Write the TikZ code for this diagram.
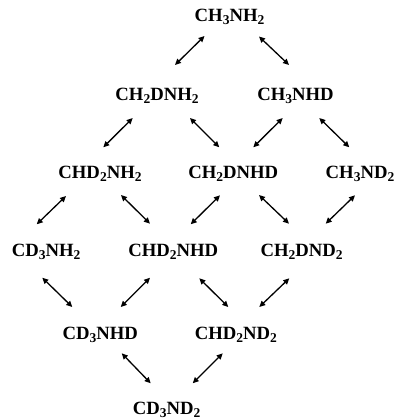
\documentclass[tikz,border=0pt]{standalone}
\usepackage{fontspec}
\setmainfont{Liberation Serif}
\usetikzlibrary{arrows.meta}
\newcommand\sbs[1]{\raisebox{-3pt}{\fontsize{13.5}{13.5}\selectfont #1}}
\begin{document}
\begin{tikzpicture}[x=1pt,y=-1pt,
  mol/.style={inner sep=0pt,anchor=base,font=\fontsize{18.7}{20}\selectfont\bfseries},
  dbl/.style={line width=1.3pt,{Triangle[length=6pt,width=5.5pt]}-{Triangle[length=6pt,width=5.5pt]}}]
\useasboundingbox (0,0) rectangle (393,419);
\node[mol] (n0)  at (229.5,21.7) {CH\sbs{3}NH\sbs{2}};
\node[mol] (n1a) at (157,100.7)  {CH\sbs{2}DNH\sbs{2}};
\node[mol] (n1b) at (295.5,100.7){CH\sbs{3}NHD};
\node[mol] (n2a) at (100,179)    {CHD\sbs{2}NH\sbs{2}};
\node[mol] (n2b) at (233.3,179)  {CH\sbs{2}DNHD};
\node[mol] (n2c) at (360,179)    {CH\sbs{3}ND\sbs{2}};
\node[mol] (n3a) at (46.2,256.7) {CD\sbs{3}NH\sbs{2}};
\node[mol] (n3b) at (173.3,256.7){CHD\sbs{2}NHD};
\node[mol] (n3c) at (301.7,256.7){CH\sbs{2}DND\sbs{2}};
\node[mol] (n4a) at (100.3,339)  {CD\sbs{3}NHD};
\node[mol] (n4b) at (235.8,339)  {CHD\sbs{2}ND\sbs{2}};
\node[mol] (n5)  at (166.7,414)  {CD\sbs{3}ND\sbs{2}};
\draw[dbl] ([shift={(-25,14.3)}]n0.base) -- ([shift={(18,-35.7)}]n1a.base);
\draw[dbl] ([shift={(29.5,14.8)}]n0.base) -- ([shift={(-6.5,-35.7)}]n1b.base);
\draw[dbl] ([shift={(-24.3,17.3)}]n1a.base) -- ([shift={(3.3,-31.7)}]n2a.base);
\draw[dbl] ([shift={(33,17.3)}]n1a.base) -- ([shift={(-14,-31.7)}]n2b.base);
\draw[dbl] ([shift={(-12.8,17.3)}]n1b.base) -- ([shift={(20,-31.7)}]n2b.base);
\draw[dbl] ([shift={(23.8,17.3)}]n1b.base) -- ([shift={(-10.7,-31.7)}]n2c.base);
\draw[dbl] ([shift={(-34,17)}]n2a.base) -- ([shift={(-9.5,-32.4)}]n3a.base);
\draw[dbl] ([shift={(21,16)}]n2a.base) -- ([shift={(-23.3,-33)}]n3b.base);
\draw[dbl] ([shift={(-13.3,16.3)}]n2b.base) -- ([shift={(17.4,-32.4)}]n3b.base);
\draw[dbl] ([shift={(25.7,16)}]n2b.base) -- ([shift={(-12.7,-33)}]n3c.base);
\draw[dbl] ([shift={(-5,16.3)}]n2c.base) -- ([shift={(24,-33)}]n3c.base);
\draw[dbl] ([shift={(-3.9,21)}]n3a.base) -- ([shift={(-28,-32)}]n4a.base);
\draw[dbl] ([shift={(-23.3,21)}]n3b.base) -- ([shift={(20.4,-32)}]n4a.base);
\draw[dbl] ([shift={(26,21.6)}]n3b.base) -- ([shift={(-7.5,-32)}]n4b.base);
\draw[dbl] ([shift={(-12.4,21.6)}]n3c.base) -- ([shift={(23.5,-32)}]n4b.base);
\draw[dbl] ([shift={(21.4,14.3)}]n4a.base) -- ([shift={(-16,-30.7)}]n5.base);
\draw[dbl] ([shift={(-13.1,14.3)}]n4b.base) -- ([shift={(26,-30.7)}]n5.base);
\end{tikzpicture}
\end{document}
